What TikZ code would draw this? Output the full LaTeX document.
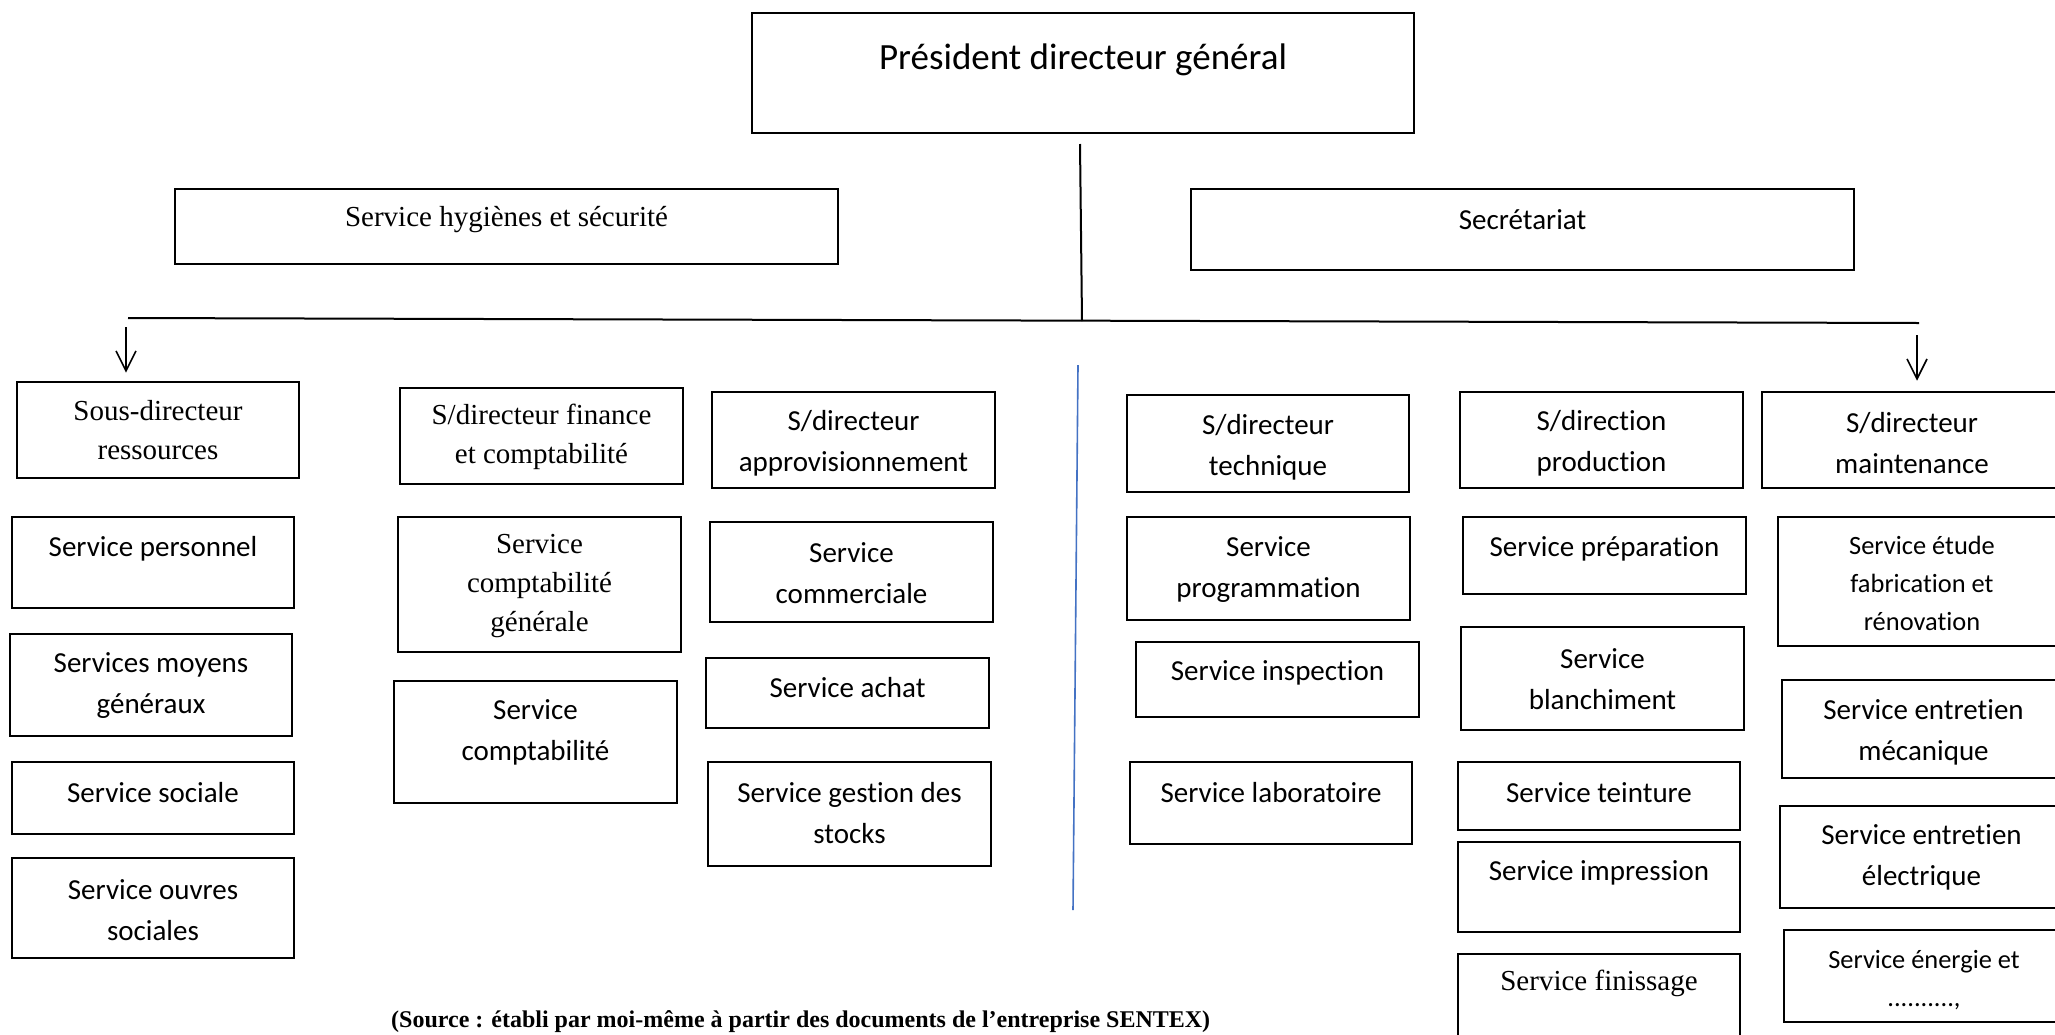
\documentclass[tikz,border=0pt]{standalone}
\usepackage{fontspec}
\setmainfont{Carlito}[Ligatures={NoCommon}]
\newfontfamily\tnr{Liberation Serif}
\usetikzlibrary{arrows.meta}
\definecolor{lineblue}{HTML}{4472C4}
\tikzset{
  boxst/.style={draw=black, line width=2.6pt, inner sep=0pt},
  tsans/.style={align=center, inner sep=0pt, font=\fontsize{29}{41}\selectfont},
  tserif/.style={align=center, inner sep=0pt, font=\tnr\fontsize{29}{39}\selectfont},
  tsmall/.style={align=center, inner sep=0pt, font=\fontsize{26.4}{38}\selectfont},
  tbig/.style={align=center, inner sep=0pt, font=\fontsize{37}{44}\selectfont},
  conn/.style={line width=2pt},
  arr/.style={line width=1.6pt, -{Straight Barb[length=20pt,width=20pt]}},
}
\newcommand{\orgbox}[8][tsans]{%
  \node[boxst, minimum width={#5-#3}, minimum height={#6-#4}] (#2) at ({(#3+#5)/2},{(#4+#6)/2}) {};
  \node[#1] (#2-t) at ({(#3+#5)/2},#7) {#8};
}
\begin{document}
\begin{tikzpicture}[x=1pt,y=-1pt]
\useasboundingbox (0,0) rectangle (2055,1034);
\fill[white] (0,0) rectangle (2055,1034);
\clip (0,0) rectangle (2055,1034);

% top level
\orgbox[tbig]{pdg}{752}{13}{1414}{133}{60}{Président directeur général}
\orgbox[tserif]{hyg}{175}{189}{838}{264}{220}{Service hygiènes et sécurité}
\orgbox{sec}{1191}{189}{1854}{270}{220}{Secrétariat}

% sub-directors
\orgbox[tserif]{sdr}{17}{382}{299}{478}{430}{Sous-directeur\\ressources}
\orgbox[tserif]{sdf}{400}{388}{683}{484}{436.5}{S/directeur finance\\et comptabilité}
\orgbox{sda}{712}{392}{995}{488}{443}{S/directeur\\approvisionnement}
\orgbox{sdt}{1127}{395}{1409}{492}{447.5}{S/directeur\\technique}
\orgbox{sdp}{1460}{392}{1743}{488}{443}{S/direction\\production}
\orgbox{sdm}{1762}{392}{2062}{488}{443}{S/directeur\\maintenance}

% column 1
\orgbox{spers}{12}{517}{294}{608}{549}{Service personnel}
\orgbox{smoy}{10}{634}{292}{736}{686}{Services moyens\\généraux}
\orgbox{ssoc}{12}{762}{294}{834}{793}{Service sociale}
\orgbox{souv}{12}{858}{294}{958}{910}{Service ouvres\\sociales}

% column 2
\orgbox[tserif]{scg}{398}{517}{681}{652}{586}{Service\\comptabilité\\générale}
\orgbox{scpt}{394}{681}{677}{803}{732.5}{Service\\comptabilité}

% column 3
\orgbox{scom}{710}{522}{993}{622}{573}{Service\\commerciale}
\orgbox{sach}{706}{658}{989}{728}{688}{Service achat}
\orgbox{sges}{708}{762}{991}{866}{813.5}{Service gestion des\\stocks}

% column 4
\orgbox{sprog}{1127}{517}{1410}{620}{569.5}{Service\\programmation}
\orgbox{sinsp}{1136}{642}{1419}{717}{673}{Service inspection}
\orgbox{slab}{1130}{762}{1412}{844}{793}{Service laboratoire}

% column 5
\orgbox{sprep}{1463}{517}{1746}{594}{549}{Service préparation}
\orgbox{sblan}{1461}{627}{1744}{730}{679.5}{Service\\blanchiment}
\orgbox{stein}{1458}{762}{1740}{830}{793}{Service teinture}
\orgbox{simp}{1458}{842}{1740}{932}{873}{Service impression}
\orgbox[tserif]{sfin}{1458}{954}{1740}{1060}{983}{Service finissage}

% column 6
\orgbox[tsmall]{setu}{1778}{517}{2066}{646}{583.5}{Service étude\\fabrication et\\rénovation}
\orgbox{smec}{1782}{680}{2065}{778}{732.5}{Service entretien\\mécanique}
\orgbox{sele}{1780}{806}{2063}{908}{857.5}{Service entretien\\électrique}
\orgbox[tsmall]{sene}{1784}{930}{2064}{1022}{980}{Service énergie et\\..........,}

% connectors
\coordinate (vtop) at (1080,144);
\coordinate (vbot) at (1082,321);
\coordinate (hl) at (128,318);
\coordinate (hr) at (1919,323);
\coordinate (al) at (126,327);
\coordinate (ar) at (1917,335);
\coordinate (btop) at (1078,365);
\coordinate (bbot) at (1073,910);

\draw[conn] (vtop) -- (vbot);
\draw[conn] (hl) -- (hr);
\draw[arr, shorten >=8pt] (al) -- (al |- sdr.north);
\draw[arr, shorten >=10pt] (ar) -- (ar |- sdm.north);
\draw[lineblue, line width=1.6pt] (btop) -- (bbot);

% source
\node[anchor=base west, inner sep=0pt, font=\tnr\bfseries\fontsize{24}{28}\selectfont] (src) at (391,1027)
  {(Source : établi par moi-même à partir des documents de l’entreprise SENTEX)};
\end{tikzpicture}
\end{document}
